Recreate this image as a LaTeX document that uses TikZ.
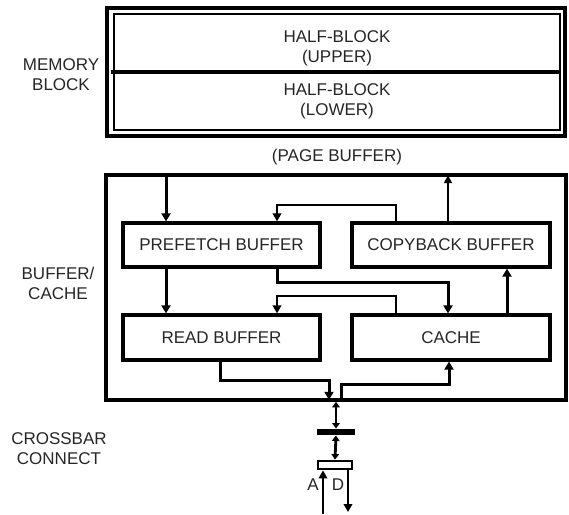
\documentclass[tikz,border=0pt]{standalone}
\usepackage{fontspec}
\newfontfamily\arialf{Liberation Sans}
\usetikzlibrary{arrows.meta,calc}
\begin{document}
\begin{tikzpicture}[x=1pt,y=-1pt,
  txt/.style={font=\arialf\fontsize{17}{20}\selectfont, text=black!85, align=center, inner sep=0pt},
  bufbox/.style={draw, line width=3.2pt, minimum width=197pt, minimum height=44pt, inner sep=0pt, font=\arialf\fontsize{17}{20}\selectfont, text=black!85},
  arr/.style={line width=3pt, -{Triangle[length=8pt,width=9pt]}},
  marr/.style={line width=2.4pt, -{Triangle[length=8pt,width=8.5pt]}},
  tarr/.style={line width=1.8pt, -{Triangle[length=8pt,width=8pt]}},
  barr/.style={line width=2.8pt, {Triangle[length=5.5pt,width=7.5pt]}-{Triangle[length=5.5pt,width=7.5pt]}}
]
\useasboundingbox (0,0) rectangle (569,514);
\fill[white] (0,0) rectangle (569,514);

% memory block
\node[draw, line width=3.5pt, minimum width=458pt, minimum height=128pt, inner sep=0pt] (memout) at (336,72) {};
\node[draw, line width=2.2pt, minimum width=446pt, minimum height=116pt, inner sep=0pt] (memin) at (337,72) {};
\draw[line width=3.2pt] ([xshift=-2pt]memin.west) -- (memin.east);
\node[txt] (upper) at (337,48) {HALF-BLOCK\\(UPPER)};
\node[txt] (lower) at (337,101.5) {HALF-BLOCK\\(LOWER)};
\node[txt] (page) at (337,157) {(PAGE BUFFER)};

% buffer / cache
\node[draw, line width=3.6pt, minimum width=460pt, minimum height=225pt, inner sep=0pt] (buf) at (336,287.5) {};
\node[bufbox] (prefetch) at (221.5,245) {PREFETCH BUFFER};
\node[bufbox, minimum width=198pt] (copyback) at (451,245) {COPYBACK BUFFER};
\node[bufbox, minimum height=45pt] (read) at (221.5,337.5) {READ BUFFER};
\node[bufbox, minimum width=198pt, minimum height=45pt] (cache) at (451,337.5) {CACHE};

\coordinate (x166) at (166,0);
\coordinate (x277) at (277,0);
\coordinate (x396) at (396,0);
\coordinate (x448) at (448,0);
\coordinate (x507) at (507,0);
\coordinate (x220) at (220,0);
\coordinate (r1) at (277,205);
\coordinate (r2) at (448,282);
\coordinate (r3) at (277,296);
\coordinate (r4) at (329,380);
\coordinate (r5) at (341,384);
\coordinate (r6) at (449,384);

\draw[arr] (buf.north -| x166) -- (prefetch.north -| x166);
\draw[tarr, shorten >=2pt] (copyback.north -| x448) -- (buf.north -| x448);
\draw[marr] (copyback.north -| x396) |- (r1) -- (prefetch.north -| r1);
\draw[arr] (prefetch.south -| x166) -- (read.north -| x166);
\draw[arr] (prefetch.south -| x277) |- (r2) -- (cache.north -| r2);
\draw[marr] (cache.north -| x396) |- (r3) -- (read.north -| r3);
\draw[arr] (cache.north -| x507) -- (copyback.south -| x507);
\draw[arr, shorten >=2pt] (read.south -| x220) |- (r4) -- (buf.south -| r4);
\draw[arr] (buf.south -| r5) |- (r6) -- (cache.south -| r6);

% crossbar
\node[fill, minimum width=38pt, minimum height=6.5pt, inner sep=0pt] (bar) at (336,432) {};
\node[draw, line width=2.8pt, minimum width=34pt, minimum height=8pt, inner sep=0pt] (conn) at (335,465) {};
\draw[barr] (buf.south -| bar) -- (bar.north);
\draw[barr] (bar.south) -- (conn.north);
\coordinate (aend) at (323,514);
\coordinate (dend) at (348,512);
\draw[marr] (aend) -- (conn.south -| aend);
\draw[marr] (conn.south -| dend) -- (dend);
\node[txt] (la) at (313,485) {A};
\node[txt] (ld) at (338,485) {D};

% side labels
\node[txt] (lmem) at (61,75) {MEMORY\\BLOCK};
\node[txt] (lbuf) at (58,283) {BUFFER/\\CACHE};
\node[txt] (lcross) at (59,449) {CROSSBAR\\CONNECT};
\end{tikzpicture}
\end{document}
